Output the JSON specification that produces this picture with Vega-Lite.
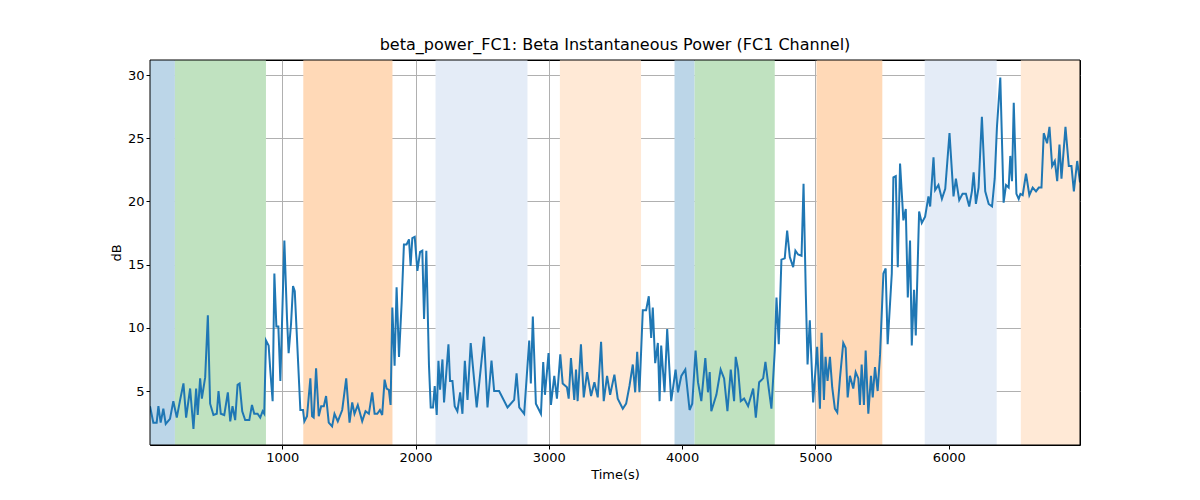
{
"$schema":"https://vega.github.io/schema/vega-lite/v6.json",
"width":930,"height":385,
"autosize":{"type":"none"},
"padding":{"left":150,"top":60,"right":120,"bottom":55},
"background":"white",
"config":{"font":"DejaVu Sans","view":{"stroke":"black","strokeWidth":1},
"axis":{"labelFont":"DejaVu Sans","titleFont":"DejaVu Sans","labelFontSize":13,"titleFontSize":13,"titleFontWeight":"normal","labelColor":"black","titleColor":"black","grid":true,"gridColor":"#b0b0b0","gridWidth":1,"domain":false,"tickColor":"black","tickSize":4,"zindex":1}},
"title":{"text":"beta_power_FC1: Beta Instantaneous Power (FC1 Channel)","font":"DejaVu Sans","fontSize":16,"fontWeight":"normal","offset":7},
"layer":[
{"data":{"values":[
{"s":8,"e":195,"c":"#bcd6e8"},{"s":195,"e":878,"c":"#c0e2c0"},{"s":1158,"e":1827,"c":"#ffd9b7"},
{"s":2150,"e":2840,"c":"#e4ecf7"},{"s":3083,"e":3692,"c":"#ffe9d6"},{"s":3943,"e":4094,"c":"#bcd6e8"},
{"s":4094,"e":4695,"c":"#c0e2c0"},{"s":5008,"e":5502,"c":"#ffd9b7"},{"s":5820,"e":6360,"c":"#e4ecf7"},{"s":6541,"e":6985,"c":"#ffe9d6"}]},
"mark":{"type":"rect","clip":true},
"encoding":{"x":{"field":"s","type":"quantitative"},"x2":{"field":"e"},"y":{"datum":0.73,"type":"quantitative"},"y2":{"datum":31.19},"fill":{"field":"c","type":"nominal","scale":null}}},
{"data":{"values":[
{"t":8,"v":3.8},{"t":33,"v":2.5},{"t":58,"v":2.5},{"t":71,"v":3.8},{"t":88,"v":2.5},{"t":108,"v":3.6},{"t":126,"v":2.4},{"t":158,"v":2.8},{"t":183,"v":4.2},{"t":209,"v":2.9},{"t":234,"v":4.3},{"t":259,"v":5.6},{"t":279,"v":2.9},{"t":309,"v":5.2},{"t":334,"v":2.0},{"t":354,"v":5.2},{"t":366,"v":3.1},{"t":384,"v":6.0},{"t":397,"v":4.4},{"t":422,"v":6.1},{"t":442,"v":11.0},{"t":459,"v":4.0},{"t":484,"v":3.1},{"t":509,"v":3.2},{"t":522,"v":5.0},{"t":539,"v":3.2},{"t":565,"v":3.1},{"t":592,"v":4.9},{"t":610,"v":2.6},{"t":627,"v":3.8},{"t":647,"v":2.7},{"t":665,"v":5.5},{"t":680,"v":5.6},{"t":700,"v":3.4},{"t":722,"v":2.7},{"t":753,"v":2.7},{"t":773,"v":3.9},{"t":790,"v":3.2},{"t":815,"v":3.2},{"t":835,"v":2.9},{"t":853,"v":3.4},{"t":865,"v":3.2},{"t":878,"v":9.0},{"t":898,"v":8.6},{"t":910,"v":6.7},{"t":928,"v":4.2},{"t":941,"v":14.3},{"t":956,"v":10.1},{"t":971,"v":10.1},{"t":986,"v":5.8},{"t":1016,"v":16.9},{"t":1036,"v":10.7},{"t":1048,"v":8.0},{"t":1066,"v":10.3},{"t":1081,"v":13.3},{"t":1094,"v":12.9},{"t":1136,"v":3.5},{"t":1156,"v":3.5},{"t":1166,"v":2.6},{"t":1186,"v":3.0},{"t":1211,"v":6.0},{"t":1224,"v":3.0},{"t":1236,"v":2.9},{"t":1254,"v":6.8},{"t":1274,"v":3.0},{"t":1292,"v":3.8},{"t":1312,"v":3.8},{"t":1329,"v":4.6},{"t":1349,"v":2.5},{"t":1374,"v":2.2},{"t":1392,"v":3.2},{"t":1417,"v":2.6},{"t":1450,"v":3.5},{"t":1480,"v":6.0},{"t":1505,"v":2.5},{"t":1525,"v":4.1},{"t":1542,"v":3.2},{"t":1567,"v":3.9},{"t":1600,"v":2.6},{"t":1625,"v":3.4},{"t":1650,"v":3.2},{"t":1675,"v":4.9},{"t":1693,"v":3.2},{"t":1713,"v":3.2},{"t":1733,"v":3.5},{"t":1750,"v":3.1},{"t":1768,"v":5.9},{"t":1783,"v":5.2},{"t":1800,"v":5.1},{"t":1813,"v":3.9},{"t":1826,"v":11.6},{"t":1843,"v":7.0},{"t":1858,"v":13.2},{"t":1876,"v":7.7},{"t":1896,"v":12.0},{"t":1913,"v":16.6},{"t":1933,"v":16.6},{"t":1951,"v":17.0},{"t":1963,"v":14.9},{"t":1976,"v":17.1},{"t":1994,"v":17.2},{"t":2014,"v":14.5},{"t":2034,"v":16.0},{"t":2051,"v":16.1},{"t":2064,"v":10.7},{"t":2081,"v":16.1},{"t":2101,"v":7.0},{"t":2114,"v":3.7},{"t":2131,"v":3.7},{"t":2144,"v":5.4},{"t":2159,"v":3.1},{"t":2172,"v":7.4},{"t":2184,"v":5.1},{"t":2202,"v":7.5},{"t":2214,"v":4.1},{"t":2247,"v":8.7},{"t":2259,"v":5.8},{"t":2277,"v":5.8},{"t":2294,"v":3.8},{"t":2314,"v":3.4},{"t":2335,"v":4.9},{"t":2352,"v":3.2},{"t":2370,"v":7.4},{"t":2390,"v":4.3},{"t":2414,"v":8.8},{"t":2459,"v":3.7},{"t":2514,"v":9.3},{"t":2540,"v":3.7},{"t":2570,"v":7.4},{"t":2590,"v":5.0},{"t":2627,"v":5.0},{"t":2690,"v":3.7},{"t":2740,"v":4.3},{"t":2758,"v":6.4},{"t":2778,"v":3.7},{"t":2815,"v":3.2},{"t":2853,"v":9.0},{"t":2865,"v":5.6},{"t":2880,"v":10.9},{"t":2903,"v":4.0},{"t":2941,"v":3.2},{"t":2958,"v":7.3},{"t":2971,"v":4.7},{"t":2998,"v":8.0},{"t":3016,"v":3.9},{"t":3041,"v":6.2},{"t":3061,"v":4.4},{"t":3086,"v":7.9},{"t":3104,"v":5.6},{"t":3136,"v":5.3},{"t":3149,"v":4.4},{"t":3166,"v":7.6},{"t":3191,"v":4.3},{"t":3204,"v":6.7},{"t":3216,"v":4.2},{"t":3241,"v":8.7},{"t":3262,"v":4.5},{"t":3287,"v":6.5},{"t":3317,"v":4.6},{"t":3342,"v":5.7},{"t":3367,"v":4.5},{"t":3392,"v":8.9},{"t":3412,"v":4.2},{"t":3437,"v":6.2},{"t":3460,"v":4.7},{"t":3492,"v":6.3},{"t":3517,"v":4.4},{"t":3555,"v":3.6},{"t":3580,"v":4.0},{"t":3605,"v":5.4},{"t":3630,"v":7.1},{"t":3648,"v":4.9},{"t":3663,"v":8.1},{"t":3680,"v":4.9},{"t":3705,"v":11.4},{"t":3730,"v":11.4},{"t":3750,"v":12.5},{"t":3768,"v":9.2},{"t":3780,"v":11.6},{"t":3798,"v":7.2},{"t":3818,"v":8.8},{"t":3831,"v":4.2},{"t":3843,"v":8.6},{"t":3868,"v":4.9},{"t":3888,"v":9.9},{"t":3918,"v":4.2},{"t":3951,"v":6.7},{"t":3969,"v":4.9},{"t":3994,"v":6.2},{"t":4024,"v":6.7},{"t":4056,"v":3.5},{"t":4076,"v":4.0},{"t":4101,"v":8.2},{"t":4119,"v":5.7},{"t":4144,"v":4.2},{"t":4174,"v":7.6},{"t":4194,"v":4.9},{"t":4207,"v":6.5},{"t":4219,"v":3.4},{"t":4257,"v":4.7},{"t":4289,"v":6.7},{"t":4315,"v":6.0},{"t":4340,"v":3.4},{"t":4365,"v":6.7},{"t":4390,"v":4.2},{"t":4402,"v":7.7},{"t":4420,"v":6.7},{"t":4440,"v":4.2},{"t":4465,"v":4.4},{"t":4495,"v":3.8},{"t":4533,"v":5.2},{"t":4553,"v":2.9},{"t":4578,"v":5.7},{"t":4608,"v":6.0},{"t":4625,"v":7.3},{"t":4650,"v":5.2},{"t":4670,"v":3.6},{"t":4695,"v":8.2},{"t":4708,"v":12.4},{"t":4725,"v":8.7},{"t":4745,"v":15.4},{"t":4770,"v":15.5},{"t":4788,"v":17.7},{"t":4808,"v":15.6},{"t":4833,"v":14.8},{"t":4850,"v":16.1},{"t":4870,"v":15.8},{"t":4896,"v":15.7},{"t":4911,"v":21.4},{"t":4928,"v":12.7},{"t":4941,"v":7.1},{"t":4958,"v":10.6},{"t":4983,"v":4.1},{"t":5013,"v":8.5},{"t":5034,"v":3.6},{"t":5046,"v":9.6},{"t":5064,"v":4.3},{"t":5076,"v":7.7},{"t":5091,"v":5.8},{"t":5109,"v":7.7},{"t":5126,"v":5.3},{"t":5146,"v":3.6},{"t":5164,"v":3.3},{"t":5184,"v":6.0},{"t":5209,"v":8.8},{"t":5227,"v":8.4},{"t":5242,"v":4.5},{"t":5259,"v":6.2},{"t":5284,"v":5.2},{"t":5302,"v":6.5},{"t":5322,"v":6.0},{"t":5334,"v":3.9},{"t":5347,"v":7.1},{"t":5364,"v":3.9},{"t":5377,"v":8.2},{"t":5397,"v":3.2},{"t":5417,"v":6.2},{"t":5430,"v":4.5},{"t":5447,"v":6.9},{"t":5467,"v":5.0},{"t":5485,"v":7.9},{"t":5510,"v":14.3},{"t":5527,"v":14.7},{"t":5542,"v":8.7},{"t":5573,"v":14.3},{"t":5585,"v":21.9},{"t":5603,"v":22.0},{"t":5618,"v":14.8},{"t":5635,"v":23.0},{"t":5660,"v":18.5},{"t":5678,"v":19.4},{"t":5693,"v":12.4},{"t":5710,"v":16.9},{"t":5723,"v":8.6},{"t":5740,"v":13.0},{"t":5753,"v":9.4},{"t":5778,"v":19.2},{"t":5798,"v":18.3},{"t":5823,"v":18.8},{"t":5848,"v":20.4},{"t":5861,"v":19.6},{"t":5886,"v":23.5},{"t":5898,"v":20.9},{"t":5923,"v":21.3},{"t":5949,"v":20.2},{"t":5974,"v":21.0},{"t":6006,"v":25.4},{"t":6036,"v":20.4},{"t":6054,"v":21.8},{"t":6079,"v":20.1},{"t":6104,"v":20.6},{"t":6129,"v":20.6},{"t":6154,"v":19.6},{"t":6174,"v":20.8},{"t":6187,"v":22.3},{"t":6204,"v":19.8},{"t":6224,"v":21.1},{"t":6249,"v":26.7},{"t":6274,"v":20.8},{"t":6300,"v":19.8},{"t":6325,"v":19.6},{"t":6345,"v":21.8},{"t":6362,"v":25.9},{"t":6387,"v":29.8},{"t":6412,"v":19.9},{"t":6430,"v":21.3},{"t":6450,"v":21.1},{"t":6462,"v":23.6},{"t":6475,"v":21.6},{"t":6488,"v":27.8},{"t":6508,"v":20.6},{"t":6525,"v":20.2},{"t":6538,"v":20.6},{"t":6555,"v":20.5},{"t":6580,"v":22.2},{"t":6605,"v":20.5},{"t":6630,"v":21.1},{"t":6655,"v":20.8},{"t":6676,"v":21.1},{"t":6696,"v":21.1},{"t":6713,"v":25.4},{"t":6738,"v":24.6},{"t":6756,"v":25.9},{"t":6776,"v":22.8},{"t":6796,"v":23.2},{"t":6814,"v":21.6},{"t":6831,"v":24.5},{"t":6846,"v":21.8},{"t":6876,"v":25.9},{"t":6901,"v":22.8},{"t":6921,"v":22.8},{"t":6939,"v":20.8},{"t":6964,"v":23.2},{"t":6985,"v":21.5}]},
"mark":{"type":"line","color":"#1f77b4","strokeWidth":2,"clip":true},
"encoding":{"x":{"field":"t","type":"quantitative","title":"Time(s)","scale":{"domain":[8,6985],"nice":false,"zero":false},"axis":{"values":[1000,2000,3000,4000,5000,6000],"format":"d"}},
"y":{"field":"v","type":"quantitative","title":"dB","scale":{"domain":[0.73,31.19],"nice":false,"zero":false},"axis":{"values":[5,10,15,20,25,30]}}}},
{"data":{"values":[{"a":1}]},
"mark":{"type":"rect","fill":null,"stroke":"black","strokeWidth":1},
"encoding":{"x":{"datum":8,"type":"quantitative"},"x2":{"datum":6985},"y":{"datum":0.73,"type":"quantitative"},"y2":{"datum":31.19}}}
]
}
